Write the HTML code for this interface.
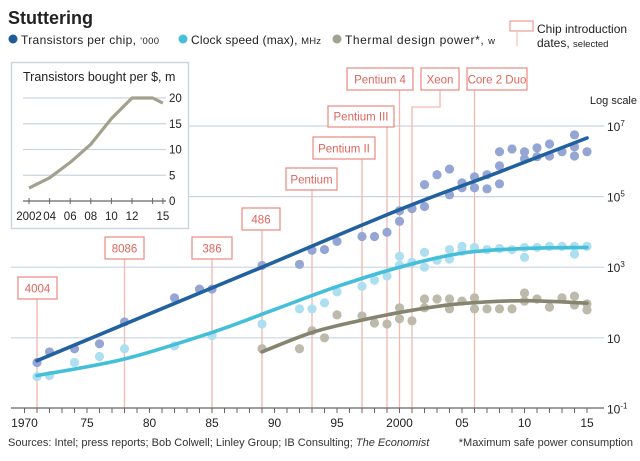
<!DOCTYPE html>
<html><head><meta charset="utf-8"><style>
body{margin:0;background:#fff}
svg text{font-family:"Liberation Sans",sans-serif}
</style></head><body>
<svg id="c" width="640" height="456" viewBox="0 0 640 456" xmlns="http://www.w3.org/2000/svg">
<g id="bg"></g>
<text x="8" y="24" font-size="18" font-weight="bold" fill="#222">Stuttering</text>
<g font-size="12" fill="#222">
<circle cx="13" cy="39" r="4.5" fill="#1f5c99"/>
<text x="21" y="44" textLength="138">Transistors per chip, <tspan font-size="9.5">’000</tspan></text>
<circle cx="183" cy="39" r="4.5" fill="#46bfdb"/>
<text x="191" y="44" textLength="130">Clock speed (max), <tspan font-size="9.5">MHz</tspan></text>
<circle cx="337" cy="39" r="4.5" fill="#a3a191"/>
<text x="345" y="44" textLength="150">Thermal design power*, <tspan font-size="9.5">w</tspan></text>
<rect x="510" y="21" width="23" height="10" fill="none" stroke="#e88a80" stroke-width="1"/>
<line x1="517" y1="31" x2="517" y2="46" stroke="#f0b4ae"/>
<text x="537" y="33">Chip introduction</text>
<text x="537" y="47">dates, <tspan font-size="9.5">selected</tspan></text>
</g>
<g id="main"></g>
<g id="inset"></g>
<text x="8" y="446" font-size="11" fill="#333">Sources: Intel; press reports; Bob Colwell; Linley Group; IB Consulting; <tspan font-style="italic">The Economist</tspan></text>
<text x="633" y="446" font-size="11" fill="#333" text-anchor="end">*Maximum safe power consumption</text>
</svg>
<script>
// ---- data (log10 values) ----
const trYears=[1971,1972,1974,1976,1978,1982,1984,1985,1989,1992,1993,1994,1995,1997,1998,1999,2000,2000,2001,2002,2002,2003,2004,2004,2005,2005,2006,2006,2007,2007,2008,2008,2008,2009,2010,2010,2011,2011,2012,2012,2013,2014,2014,2014,2015];
const trLog=[0.3,0.6,0.69,0.83,1.45,2.13,2.38,2.38,3.05,3.08,3.48,3.5,3.73,3.87,3.87,3.99,4.3,4.6,4.66,5.34,4.72,5.62,5.78,5.05,5.39,5.25,5.56,5.25,5.62,5.22,6.27,5.87,5.36,6.35,6.27,6.07,6.38,6.13,6.49,6.15,6.27,6.75,6.41,6.15,6.27];
const ckYears=[1971,1972,1974,1976,1978,1982,1985,1989,1992,1993,1994,1995,1997,1998,1999,2000,2000,2001,2002,2002,2003,2004,2004,2005,2005,2006,2007,2008,2009,2010,2010,2011,2012,2013,2014,2014,2015];
const ckLog=[-0.1,-0.07,0.3,0.47,0.69,0.77,1.06,1.39,1.82,1.82,1.99,2.3,2.46,2.63,2.75,3.06,3.31,3.14,3.42,3.0,3.2,3.5,3.23,3.59,3.45,3.56,3.5,3.53,3.5,3.56,3.28,3.56,3.59,3.59,3.59,3.37,3.59];
const pwYears=[1989,1992,1993,1994,1995,1997,1998,1999,2000,2000,2001,2002,2002,2003,2004,2004,2005,2006,2006,2007,2008,2009,2010,2010,2011,2012,2013,2014,2014,2015,2015];
const pwLog=[0.69,0.69,1.2,1.0,1.65,1.62,1.42,1.39,1.85,1.54,1.48,2.1,1.85,2.1,2.1,1.82,2.04,2.13,1.82,1.82,1.82,1.82,2.27,2.04,2.1,1.87,2.13,2.18,1.93,1.96,1.79];
const trTrendYears=[1971,1980,1989,2000,2008,2015];
const trTrendLog=[0.35,1.68,3.0,4.63,5.7,6.66];
const ckTrendYears=[1971,1978,1985,1990,1995,2000,2005,2010,2015];
const ckTrendLog=[-0.07,0.4,1.15,1.8,2.45,3.0,3.4,3.53,3.56];
const pwTrendYears=[1989,1993,1997,2001,2005,2010,2015];
const pwTrendLog=[0.6,1.15,1.5,1.78,1.97,2.05,1.98];
const chipNames=["4004","8086","386","486","Pentium","Pentium II","Pentium III","Pentium 4","Xeon","Core 2 Duo"];
const chipYears=[1971,1978,1985,1989,1993,1997,1999,2000,2001,2006];
const yTickExp=[7,5,3,1,-1];
const xTickLabels=["1970","75","80","85","90","95","2000","05","10","15"];
const insetYears=[2002,2004,2006,2008,2010,2012,2014,2015];
const insetValues=[2.5,4.5,7.5,11,16,20,20,19];
const insetTicks=[0,5,10,15,20];
const insetXLabels=["2002","04","06","08","10","12","15"];
const insetXLabelYears=[2002,2004,2006,2008,2010,2012,2015];

const NS="http://www.w3.org/2000/svg";
function mk(p,t,a){const e=document.createElementNS(NS,t);for(const k in a)e.setAttribute(k,a[k]);p.appendChild(e);return e;}
const X=y=>24.5+(y-1970)*12.5;
const Y=l=>126+(7-l)*35.3;
const bg=document.getElementById('bg'),main=document.getElementById('main'),inset=document.getElementById('inset');

yTickExp.forEach(e=>{
  if(e===-1)return;
  const g=mk(bg,'line',{x1:(e>=5?189:11),x2:604,y1:Y(e),y2:Y(e),stroke:'#c9d5e1','stroke-width':1.2});
  
  
});
yTickExp.forEach(e=>{
  const t=mk(main,'text',{x:607,y:Y(e)+5,'font-size':12,fill:'#222'});
  
  
  t.textContent='10';
  if(e!==1){const s=mk(t,'tspan',{'font-size':8,dy:-5});s.textContent=String(e);}
});
{const t=mk(main,'text',{x:637,y:104,'font-size':11,'text-anchor':'end',fill:'#222'});t.textContent='Log scale';

}

const boxes=[[18,57,277,299],[105,144,237,259],[192,232,237,259],[242,280,208,230],[286,337,168,190],[313,375,137,159],[328,394,106,127],[347,413,68,90],[421,459,68,90],[467,527,68,90]];
chipYears.forEach((yr,i)=>{
  const b=boxes[i],cx=X(yr);
  let d;
  if(chipNames[i]==="Xeon"){const m=(b[0]+b[1])/2;d=`M${m},${b[3]}V107H${cx}V408`;}
  else d=`M${cx},${b[3]}V408`;
  const l=mk(bg,'path',{d:d,fill:'none',stroke:'#f2b8b1','stroke-width':1.3});
  
  
  const r=mk(main,'rect',{x:b[0],y:b[2],width:b[1]-b[0],height:b[3]-b[2],fill:'#fff',stroke:'#e88a80','stroke-width':1.2});
  
  
  const t=mk(main,'text',{x:(b[0]+b[1])/2,y:b[3]-6.5,'font-size':11.5,fill:'#e0645a','text-anchor':'middle'});
  t.textContent=chipNames[i];
  
  
});

function dots(ys,ls,col,name){ys.forEach((yr,i)=>{const c=mk(main,'circle',{cx:X(yr),cy:Y(ls[i]),r:4.6,fill:col});

});}
dots(trYears,trLog,'#96a6d4','transistor-point');
dots(ckYears,ckLog,'#addff0','clock-point');
dots(pwYears,pwLog,'#bdbaac','power-point');
function smooth(pts){
  let d='M'+pts[0][0].toFixed(1)+','+pts[0][1].toFixed(1);
  for(let i=0;i<pts.length-1;i++){
    const p0=pts[i-1]||pts[i],p1=pts[i],p2=pts[i+1],p3=pts[i+2]||p2;
    const c1=[p1[0]+(p2[0]-p0[0])/6,p1[1]+(p2[1]-p0[1])/6],c2=[p2[0]-(p3[0]-p1[0])/6,p2[1]-(p3[1]-p1[1])/6];
    d+=` C${c1[0].toFixed(1)},${c1[1].toFixed(1)} ${c2[0].toFixed(1)},${c2[1].toFixed(1)} ${p2[0].toFixed(1)},${p2[1].toFixed(1)}`;
  }
  return d;
}
function trend(ys,ls,col,name){
  const p=mk(main,'path',{d:smooth(ys.map((yr,i)=>[X(yr),Y(ls[i])])),fill:'none',stroke:col,'stroke-width':3.6,'stroke-linecap':'round'});
  
  
}
trend(trTrendYears,trTrendLog,'#22619f','transistor-trend-line');
trend(ckTrendYears,ckTrendLog,'#45bfd9','clock-trend-line');
trend(pwTrendYears,pwTrendLog,'#85846f','power-trend-line');

{const a=mk(main,'line',{x1:11,x2:604,y1:408,y2:408,stroke:'#666','stroke-width':1.2});

}
for(let yr=1970;yr<=2015;yr++){mk(main,'line',{x1:X(yr),x2:X(yr),y1:408,y2:413,stroke:'#666','stroke-width':1});}
xTickLabels.forEach((lb,i)=>{const t=mk(main,'text',{x:X(1970+i*5),y:427,'font-size':12,'text-anchor':'middle',fill:'#222'});t.textContent=lb;

});

{const r=mk(inset,'rect',{x:11.5,y:62.5,width:177,height:166,fill:'#fff',stroke:'#c9d5e1','stroke-width':1.4});


const t=mk(inset,'text',{x:23,y:81,'font-size':12.5,fill:'#222'});t.textContent='Transistors bought per $, m';

}
const IX=yr=>29+(yr-2002)*10.3, IY=v=>201-v*5.15;
insetTicks.forEach(v=>{
  if(v>0)mk(inset,'line',{x1:23,x2:166,y1:IY(v),y2:IY(v),stroke:'#c9d5e1','stroke-width':1.2});
  const t=mk(inset,'text',{x:169,y:IY(v)+4,'font-size':11.5,fill:'#222'});t.textContent=v;
  
  
});
mk(inset,'line',{x1:23,x2:166,y1:IY(0),y2:IY(0),stroke:'#666','stroke-width':1.2});
insetYears.forEach(yr=>mk(inset,'line',{x1:IX(yr),x2:IX(yr),y1:IY(0)-3,y2:IY(0)+3,stroke:'#666'}));
insetXLabels.forEach((lb,i)=>{const t=mk(inset,'text',{x:IX(insetXLabelYears[i]),y:220,'font-size':11.5,'text-anchor':'middle',fill:'#222'});t.textContent=lb;

});
{let d='';insetYears.forEach((yr,i)=>{d+=(i?' L':'M')+IX(yr)+','+IY(insetValues[i]).toFixed(1);});
const p=mk(inset,'path',{d:d,fill:'none',stroke:'#a3a18d','stroke-width':3.2,'stroke-linejoin':'round'});

}
</script>
</body></html>
